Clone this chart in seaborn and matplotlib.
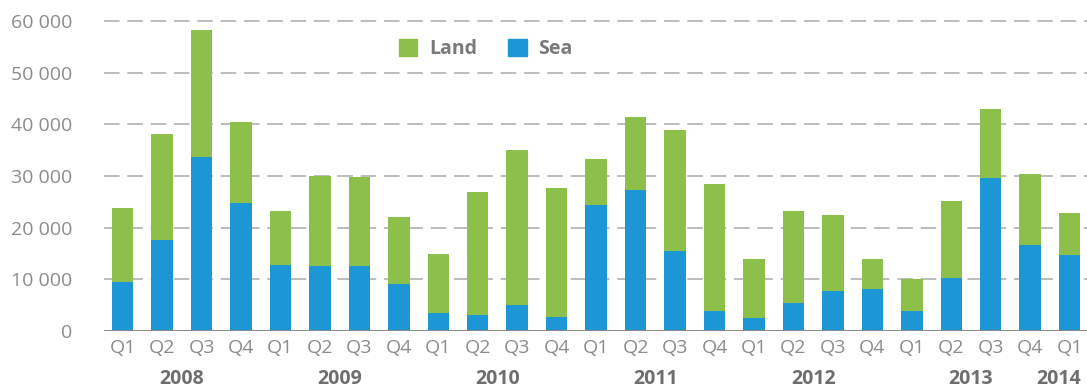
import matplotlib
matplotlib.use("Agg")
import matplotlib.pyplot as plt
import matplotlib.patches as mpatches
import seaborn as sns
import pandas as pd

# Quarterly arrivals, split into land and sea routes
years = ["2008", "2009", "2010", "2011", "2012", "2013", "2014"]
quarters = ["Q1", "Q2", "Q3", "Q4"] * 6 + ["Q1"]
total = [23900, 38100, 58200, 40400,
         23200, 30000, 29900, 22100,
         15000, 26900, 35100, 27700,
         33300, 41500, 38900, 28400,
         13900, 23200, 22400, 13900,
         10100, 25100, 43000, 30300,
         22900]
sea = [9500, 17700, 33700, 24800,
       12800, 12500, 12500, 9100,
       3500, 3200, 5000, 2800,
       24400, 27300, 15500, 3900,
       2500, 5400, 7700, 8100,
       3900, 10300, 29600, 16600,
       14700]
land = [t - s for t, s in zip(total, sea)]

periods = [f"{years[i // 4]} {q}" for i, q in enumerate(quarters)]
df = pd.DataFrame({"period": periods, "quarter": quarters,
                   "total": total, "sea": sea, "land": land})

GREEN = "#8dbf4b"
BLUE = "#1c96d4"
TEXT = "#8c8c8c"
YEAR = "#6e6e6e"
GRID = "#bdbdbd"

sns.set_theme(style="white")
plt.rcParams["font.family"] = ["Open Sans", "DejaVu Sans"]

fig = plt.figure(figsize=(10.87, 3.89), dpi=100)
ax = fig.add_axes([0.0957, 0.149, 0.9043, 0.8104])

sns.barplot(data=df, x="period", y="total", order=periods, color=GREEN,
            width=0.545, saturation=1, ax=ax, zorder=3, edgecolor="none")
sns.barplot(data=df, x="period", y="sea", order=periods, color=BLUE,
            width=0.545, saturation=1, ax=ax, zorder=4, edgecolor="none")

ax.set_xlim(-0.47, 24.44)
ax.set_ylim(0, 61000)

yt = [0, 10000, 20000, 30000, 40000, 50000, 60000]
ax.set_yticks(yt)
ax.set_yticklabels([f"{v:,}".replace(",", " ") for v in yt])
for v in yt[1:]:
    ax.axhline(v, color=GRID, lw=1.4, linestyle=(0, (8, 4)), zorder=1)
ax.axhline(0, color="#8a8a8a", lw=2.2, zorder=5)

ax.set_xticks(range(len(quarters)))
ax.set_xticklabels(quarters)
ax.tick_params(axis="both", length=0, labelsize=14, colors=TEXT)
ax.tick_params(axis="y", pad=23)
ax.tick_params(axis="x", pad=6)
ax.set_xlabel("")
ax.set_ylabel("")
for s in ax.spines.values():
    s.set_visible(False)

# Year labels under the quarter labels
year_pos = [1.5, 5.5, 9.5, 13.5, 17.5, 21.5, 23.72]
for yr, xp in zip(years, year_pos):
    ax.text(xp, -0.152, yr, transform=ax.get_xaxis_transform(),
            ha="center", va="center", fontsize=14, fontweight="bold",
            color=YEAR)

handles = [mpatches.Patch(color=GREEN, label="Land"),
           mpatches.Patch(color=BLUE, label="Sea")]
leg = ax.legend(handles=handles, loc="center left", bbox_to_anchor=(0.30, 0.895),
                ncol=2, frameon=False, handlelength=0.95, handleheight=0.95,
                handletextpad=0.6, columnspacing=1.6, borderpad=0,
                borderaxespad=0, prop={"size": 14, "weight": "bold"})
for t in leg.get_texts():
    t.set_color("#7a7a7a")

fig.savefig("out.png", dpi=100)
